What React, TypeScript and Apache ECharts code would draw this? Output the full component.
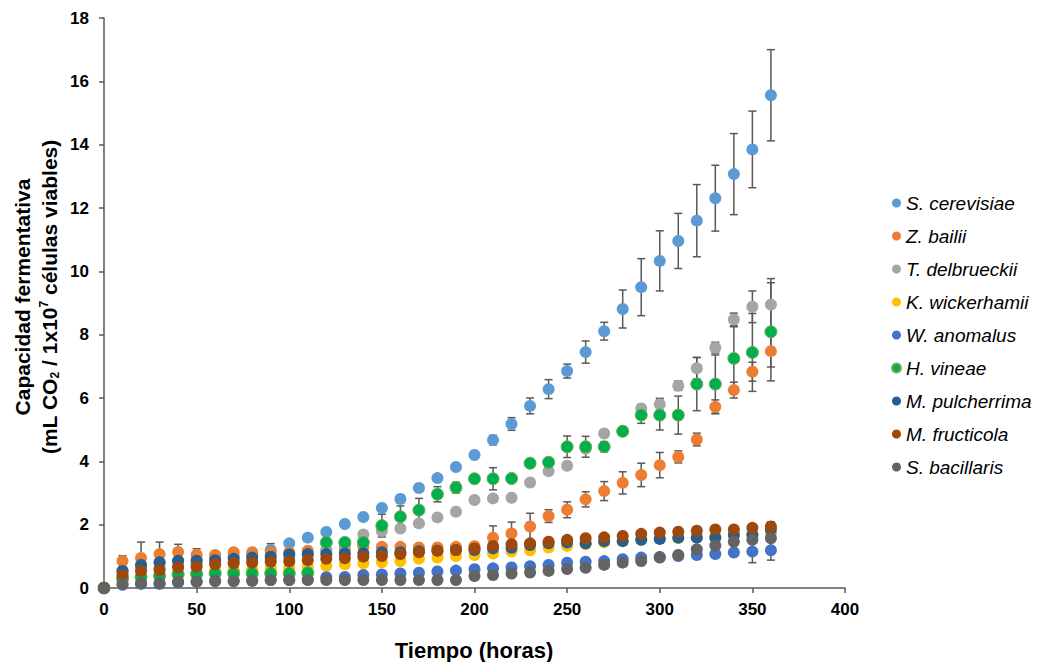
import React, { useEffect, useRef } from "react";
import * as echarts from "echarts";

const times = [0,10,20,30,40,50,60,70,80,90,100,110,120,130,140,150,160,170,180,190,200,210,220,230,240,250,260,270,280,290,300,310,320,330,340,350,360];

const seriesNames = ["S. cerevisiae","Z. bailii","T. delbrueckii","K. wickerhamii","W. anomalus","H. vineae","M. pulcherrima","M. fructicola","S. bacillaris"];
const seriesColors = ["#5B9BD5","#ED7D31","#A5A5A5","#FFC000","#4472C4","#00B050","#255E91","#9E480E","#636363"];

const sCerevisiae = [0,0.55,0.7,0.8,0.85,0.9,0.95,1.0,1.05,1.2,1.41,1.59,1.77,2.02,2.24,2.53,2.81,3.16,3.47,3.82,4.2,4.67,5.18,5.75,6.28,6.85,7.45,8.11,8.81,9.5,10.33,10.96,11.6,12.31,13.07,13.85,15.56];
const sCerevisiaeErr = [0,0.05,0.05,0.05,0.05,0.05,0.05,0.05,0.05,0.2,0.08,0.08,0.08,0.08,0.08,0.1,0.12,0.1,0.1,0.1,0.1,0.15,0.2,0.25,0.3,0.22,0.35,0.28,0.6,0.9,0.95,0.87,1.14,1.04,1.28,1.21,1.44];

const zBailii = [0,0.85,0.95,1.07,1.14,1.05,1.04,1.13,1.13,1.12,1.12,1.18,1.2,1.22,1.3,1.3,1.3,1.28,1.28,1.3,1.32,1.59,1.72,1.94,2.27,2.47,2.8,3.06,3.32,3.57,3.88,4.14,4.69,5.72,6.25,6.83,7.48];
const zBailiiErr = [0,0.17,0.5,0.38,0.24,0.19,0.08,0.08,0.08,0.08,0.08,0.08,0.08,0.08,0.08,0.08,0.08,0.08,0.08,0.08,0.1,0.37,0.36,0.42,0.2,0.25,0.24,0.3,0.35,0.37,0.4,0.19,0.2,0.22,0.25,0.3,0.5];

const tDelbrueckii = [0,0.45,0.6,0.65,0.7,0.75,0.78,0.82,0.85,0.9,0.95,1.05,1.2,1.35,1.69,1.8,1.88,2.04,2.23,2.41,2.78,2.83,2.85,3.33,3.69,3.86,4.4,4.88,4.95,5.67,5.8,6.39,6.94,7.59,8.48,8.88,8.95];
const tDelbrueckiiErr = [0,0.05,0.05,0.05,0.05,0.05,0.05,0.05,0.05,0.05,0.05,0.05,0.05,0.05,0.08,0.08,0.08,0.08,0.08,0.08,0.08,0.08,0.08,0.12,0.1,0.1,0.1,0.1,0.1,0.12,0.19,0.15,0.34,0.17,0.2,0.5,0.82];

const kWickerhamii = [0,0.3,0.35,0.4,0.45,0.5,0.55,0.57,0.59,0.62,0.63,0.67,0.7,0.75,0.78,0.81,0.85,0.92,0.96,1.01,1.04,1.09,1.15,1.19,1.28,1.33,1.38,1.44,1.48,1.52,1.55,1.58,1.6,1.63,1.67,1.7,1.72];
const kWickerhamiiErr = [0,0.05,0.05,0.05,0.05,0.05,0.05,0.05,0.05,0.05,0.05,0.05,0.05,0.05,0.05,0.05,0.05,0.05,0.05,0.05,0.05,0.05,0.05,0.05,0.05,0.05,0.05,0.05,0.05,0.05,0.05,0.05,0.05,0.05,0.05,0.05,0.05];

const wAnomalus = [0,0.1,0.13,0.13,0.17,0.2,0.22,0.22,0.23,0.25,0.25,0.27,0.34,0.35,0.41,0.43,0.46,0.48,0.52,0.55,0.59,0.62,0.65,0.69,0.73,0.8,0.83,0.85,0.91,0.96,0.98,1.01,1.04,1.07,1.12,1.15,1.19];
const wAnomalusErr = [0,0.05,0.05,0.05,0.05,0.05,0.05,0.05,0.05,0.05,0.05,0.05,0.05,0.05,0.05,0.05,0.05,0.05,0.05,0.05,0.1,0.1,0.1,0.05,0.05,0.05,0.05,0.05,0.05,0.05,0.05,0.05,0.05,0.05,0.05,0.35,0.31];

const hVineae = [0,0.3,0.35,0.38,0.43,0.44,0.46,0.46,0.46,0.46,0.46,0.48,1.44,1.44,1.44,1.97,2.25,2.46,2.96,3.17,3.45,3.45,3.46,3.94,3.97,4.46,4.46,4.46,4.95,5.46,5.46,5.46,6.44,6.44,7.25,7.44,8.09];
const hVineaeErr = [0,0.05,0.05,0.05,0.05,0.05,0.05,0.05,0.05,0.05,0.05,0.05,0.08,0.08,0.08,0.36,0.34,0.37,0.24,0.17,0.1,0.35,0.1,0.1,0.1,0.34,0.33,0.16,0.1,0.26,0.47,0.6,0.84,0.92,1.0,1.23,1.55];

const mPulcherrima = [0,0.54,0.73,0.81,0.86,0.86,0.88,0.92,0.96,0.99,1.06,1.07,1.07,1.09,1.1,1.13,1.13,1.16,1.18,1.2,1.2,1.25,1.27,1.36,1.41,1.44,1.41,1.48,1.48,1.52,1.55,1.59,1.59,1.59,1.67,1.67,1.85];
const mPulcherrimaErr = [0,0.05,0.05,0.05,0.05,0.05,0.05,0.05,0.05,0.05,0.05,0.05,0.05,0.05,0.05,0.05,0.05,0.05,0.05,0.05,0.05,0.05,0.05,0.05,0.05,0.05,0.05,0.05,0.05,0.05,0.05,0.05,0.05,0.05,0.05,0.05,0.1];

const mFructicola = [0,0.41,0.54,0.57,0.65,0.67,0.75,0.78,0.8,0.83,0.84,0.88,0.92,0.94,0.99,1.01,1.07,1.13,1.18,1.2,1.25,1.33,1.38,1.41,1.46,1.52,1.57,1.6,1.64,1.71,1.75,1.78,1.81,1.85,1.85,1.9,1.94];
const mFructicolaErr = [0,0.05,0.05,0.05,0.05,0.05,0.05,0.05,0.05,0.05,0.05,0.05,0.05,0.05,0.05,0.05,0.05,0.05,0.05,0.05,0.05,0.05,0.05,0.05,0.05,0.05,0.05,0.05,0.05,0.05,0.05,0.05,0.05,0.08,0.1,0.12,0.15];

const sBacillaris = [0,0.13,0.15,0.15,0.2,0.2,0.22,0.22,0.23,0.25,0.25,0.25,0.25,0.25,0.25,0.25,0.25,0.25,0.25,0.25,0.38,0.41,0.46,0.49,0.54,0.6,0.64,0.73,0.8,0.85,0.96,1.04,1.22,1.34,1.46,1.52,1.57];
const sBacillarisErr = [0,0.05,0.05,0.05,0.05,0.05,0.05,0.05,0.05,0.05,0.05,0.05,0.05,0.05,0.05,0.05,0.05,0.05,0.05,0.05,0.05,0.05,0.05,0.05,0.05,0.05,0.05,0.05,0.05,0.05,0.05,0.05,0.05,0.05,0.05,0.05,0.05];

const allValues = [sCerevisiae, zBailii, tDelbrueckii, kWickerhamii, wAnomalus, hVineae, mPulcherrima, mFructicola, sBacillaris];
const allErrors = [sCerevisiaeErr, zBailiiErr, tDelbrueckiiErr, kWickerhamiiErr, wAnomalusErr, hVineaeErr, mPulcherrimaErr, mFructicolaErr, sBacillarisErr];

const FONT = "'Liberation Sans', Arial, sans-serif";

export default function App() {
  const ref = useRef<HTMLDivElement>(null);
  useEffect(() => {
    if (!ref.current) return;
    const chart = echarts.init(ref.current, undefined, { renderer: "svg" });
    const series: any[] = [];
    seriesNames.forEach((name, i) => {
      const vals = allValues[i];
      const errs = allErrors[i];
      series.push({
        type: "custom",
        name: name + " error",
        data: times.map((t, k) => [t, vals[k] - errs[k], vals[k] + errs[k]]),
        encode: { x: 0, y: [1, 2] },
        renderItem: (params: any, api: any) => {
          const x = api.value(0);
          const lo = api.value(1);
          const hi = api.value(2);
          if (hi - lo <= 0) return { type: "group", children: [] };
          const top = api.coord([x, hi]);
          const bot = api.coord([x, lo]);
          const hw = 4;
          const st = { stroke: "#595959", lineWidth: 1.5 };
          return {
            type: "group",
            children: [
              { type: "line", shape: { x1: top[0], y1: top[1], x2: bot[0], y2: bot[1] }, style: st },
              { type: "line", shape: { x1: top[0] - hw, y1: top[1], x2: top[0] + hw, y2: top[1] }, style: st },
              { type: "line", shape: { x1: bot[0] - hw, y1: bot[1], x2: bot[0] + hw, y2: bot[1] }, style: st },
            ],
          };
        },
        silent: true,
      });
      series.push({
        type: "scatter",
        name,
        data: times.map((t, k) => [t, vals[k]]),
        symbol: "circle",
        symbolSize: 12,
        itemStyle: {
          color: seriesColors[i],
          opacity: 1,
          borderColor: name === "H. vineae" ? "#70AD47" : undefined,
          borderWidth: name === "H. vineae" ? 1 : 0,
        },
      });
    });

    chart.setOption({
      animation: false,
      grid: { left: 104, right: 196, top: 18, bottom: 74, containLabel: false },
      xAxis: {
        type: "value",
        min: 0,
        max: 400,
        interval: 50,
        axisLine: { show: true, lineStyle: { color: "#595959", width: 1.5 } },
        axisTick: { show: true, length: 5, lineStyle: { color: "#595959", width: 1.5 } },
        axisLabel: { color: "#000", fontFamily: FONT, fontWeight: "bold", fontSize: 17, margin: 13 },
        splitLine: { show: false },
      },
      yAxis: {
        type: "value",
        min: 0,
        max: 18,
        interval: 2,
        axisLine: { show: true, lineStyle: { color: "#595959", width: 1.5 } },
        axisTick: { show: true, length: 5, lineStyle: { color: "#595959", width: 1.5 } },
        axisLabel: { color: "#000", fontFamily: FONT, fontWeight: "bold", fontSize: 17, margin: 15 },
        splitLine: { show: false },
      },
      legend: {
        data: seriesNames,
        orient: "vertical",
        left: 886,
        top: 188,
        itemWidth: 9,
        itemHeight: 9,
        itemGap: 13,
        icon: "circle",
        textStyle: { fontFamily: FONT, fontStyle: "italic", fontSize: 19, color: "#000", lineHeight: 20 },
      },
      graphic: [
        {
          type: "text",
          x: 474,
          y: 650,
          style: {
            text: "Tiempo (horas)",
            fontFamily: FONT,
            fontWeight: "bold",
            fontSize: 22,
            fill: "#000",
            align: "center",
            verticalAlign: "middle",
          },
        },
        {
          type: "text",
          x: 22,
          y: 297,
          rotation: Math.PI / 2,
          style: {
            text: "Capacidad fermentativa",
            fontFamily: FONT,
            fontWeight: "bold",
            fontSize: 21,
            fill: "#000",
            align: "center",
            verticalAlign: "middle",
          },
        },
        {
          type: "text",
          x: 49,
          y: 297,
          rotation: Math.PI / 2,
          style: {
            text: "{b|(mL CO}{sub|2}{b| / 1x10}{sup|7}{b| células viables)}",
            fontFamily: FONT,
            fontWeight: "bold",
            fontSize: 21,
            fill: "#000",
            align: "center",
            verticalAlign: "middle",
            rich: {
              b: { fontFamily: FONT, fontWeight: "bold", fontSize: 21, fill: "#000", lineHeight: 28, verticalAlign: "middle" },
              sub: { fontFamily: FONT, fontWeight: "bold", fontSize: 12, fill: "#000", lineHeight: 28, verticalAlign: "bottom", padding: [0, 0, 2, 0] },
              sup: { fontFamily: FONT, fontWeight: "bold", fontSize: 12, fill: "#000", lineHeight: 28, verticalAlign: "top", padding: [3, 0, 0, 0] },
            },
          },
        },
      ],
      series,
    });
    return () => chart.dispose();
  }, []);
  return <div ref={ref} style={{ position: "absolute", left: 0, top: 0, width: 1041, height: 662 }} />;
}
